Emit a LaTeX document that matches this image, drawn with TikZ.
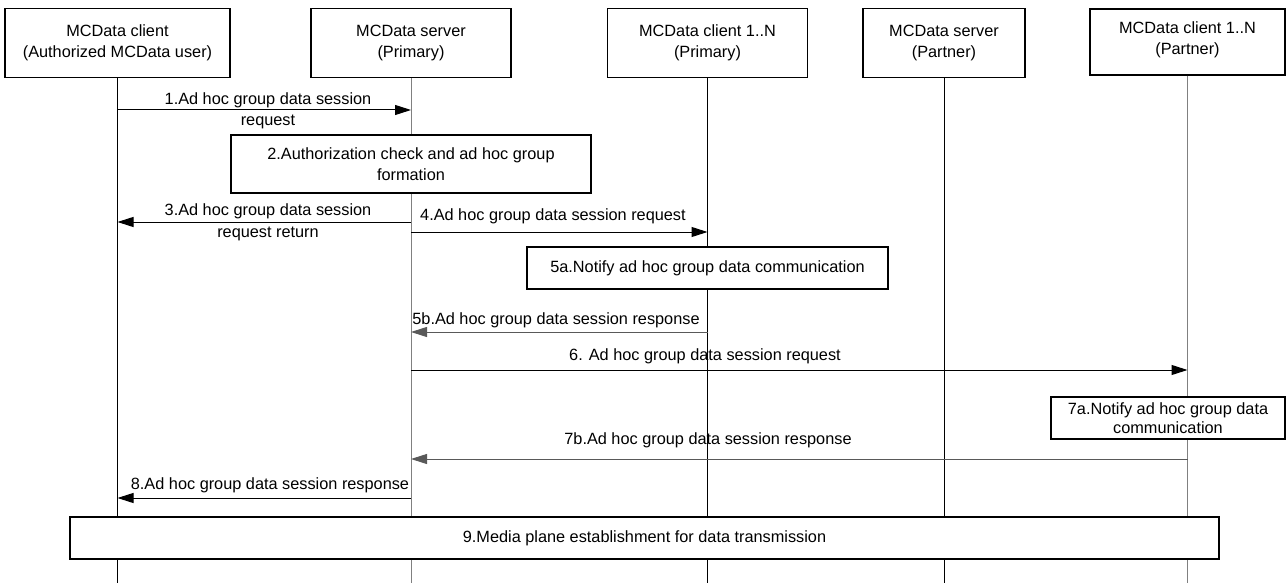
\documentclass[tikz,border=0pt]{standalone}
\usepackage{fontspec}
\setmainfont{Liberation Sans}
\usepackage{tikz}
\usetikzlibrary{arrows.meta, positioning}

\begin{document}
\begin{tikzpicture}[x=1pt, y=-1pt, >={Triangle[length=16pt,width=10pt]},
    font=\fontsize{16.3}{21.5}\selectfont,
    hdr/.style={draw, line width=1.2pt, fill=white, align=center, minimum height=69pt, inner sep=0pt},
    stepbox/.style={draw, line width=1.2pt, fill=white, align=center, inner sep=0pt},
    life/.style={line width=1pt},
    msg/.style={line width=1pt, ->},
    lbl/.style={align=center, inner sep=0pt}]

    \useasboundingbox (0,0) rectangle (1286,583);
    \coordinate (bot) at (0,583);

    % =================================================================
    % PHẦN 1: CÁC THỰC THỂ VÀ ĐƯỜNG ĐỜI
    % =================================================================
    \node[hdr, minimum width=225pt] (cliA) at (117.5,43) {MCData client\\(Authorized MCData user)};
    \node[hdr, minimum width=200pt] (srvP) at (411,43) {MCData server\\(Primary)};
    \node[hdr, minimum width=200pt] (cliP) at (707.5,43) {MCData client 1..N\\(Primary)};
    \node[hdr, minimum width=162pt] (srvR) at (944,43) {MCData server\\(Partner)};
    \node[hdr, minimum width=195pt, minimum height=66pt, text depth=8pt] (cliR) at (1187.5,42) {MCData client 1..N\\(Partner)};

    % Các đường đời dọc
    \draw[life] (cliA.south) -- (cliA.south |- bot);
    \draw[life, gray] (srvP.south) -- (srvP.south |- bot);
    \draw[life] (cliP.south) -- (cliP.south |- bot);
    \draw[life] (srvR.south) -- (srvR.south |- bot);
    \draw[life, gray] (cliR.south) -- (cliR.south |- bot);

    % =================================================================
    % PHẦN 2: CÁC BƯỚC VÀ THÔNG ĐIỆP
    % =================================================================
    % Bước 1
    \draw[msg] (cliA |- 0,110) -- (srvP |- 0,110);
    \node[lbl] (m1) at (268,111) {1.Ad hoc group data session\\request};

    % Bước 2
    \node[stepbox, minimum width=360pt, minimum height=58pt] (s2) at (411,164) {2.Authorization check and ad hoc group\\formation};

    % Bước 3 và 4
    \draw[msg] (srvP |- 0,222) -- (cliA |- 0,222);
    \node[lbl] (m3) at (268,222.5) {3.Ad hoc group data session\\request return};
    \draw[msg] (srvP |- 0,232) -- (cliP |- 0,232);
    \node[lbl, anchor=west] (m4) at (420,216) {4.Ad hoc group data session request};

    % Bước 5a, 5b
    \node[stepbox, minimum width=361pt, minimum height=42pt] (s5a) at (707.5,268) {5a.Notify ad hoc group data communication};
    \draw[msg, gray!70!black] (cliP |- 0,332) -- (srvP |- 0,332);
    \node[lbl] (m5b) at (556,320) {5b.Ad hoc group data session response};

    % Bước 6
    \draw[msg] (srvP |- 0,370) -- (cliR |- 0,370);
    \node[lbl] (m6) at (705,356) {6. Ad hoc group data session request};

    % Bước 7a, 7b
    \node[stepbox, minimum width=234pt, minimum height=42pt, font=\fontsize{16.3}{19.5}\selectfont] (s7a) at (1168,418) {7a.Notify ad hoc group data\\communication};
    \draw[msg, gray!70!black] (cliR |- 0,459) -- (srvP |- 0,459);
    \node[lbl] (m7b) at (708,440) {7b.Ad hoc group data session response};

    % Bước 8
    \draw[msg] (srvP |- 0,498) -- (cliA |- 0,498);
    \node[lbl] (m8) at (270,485) {8.Ad hoc group data session response};

    % Bước 9
    \node[stepbox, minimum width=1149pt, minimum height=42pt] (s9) at (644.5,538) {9.Media plane establishment for data transmission};

\end{tikzpicture}
\end{document}
